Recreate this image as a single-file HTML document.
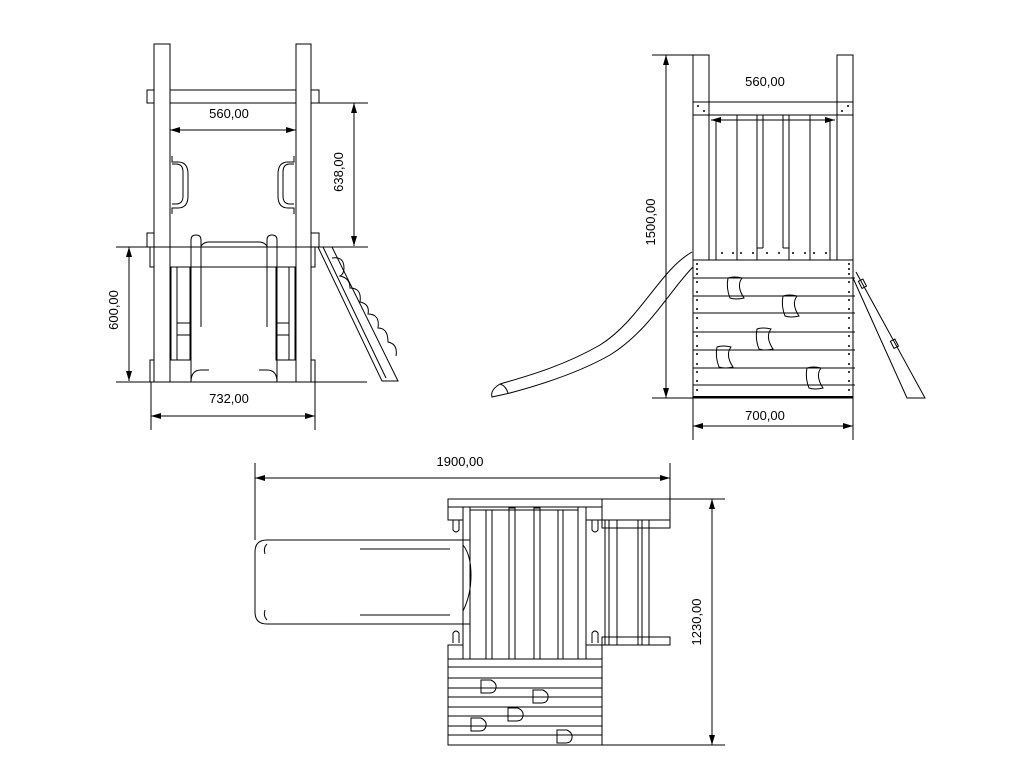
<!DOCTYPE html>
<html><head><meta charset="utf-8"><style>
html,body{margin:0;padding:0;background:#fff;}
svg{display:block;}
text{font-family:"Liberation Sans",sans-serif;font-size:13px;fill:#000;}
</style></head><body>
<svg width="1024" height="768" viewBox="0 0 1024 768" xmlns="http://www.w3.org/2000/svg">
<defs>
<marker id="a" viewBox="0 0 10 6" refX="10" refY="3" markerWidth="10" markerHeight="6" orient="auto-start-reverse" markerUnits="userSpaceOnUse"><path d="M0,0 L10,3 L0,6 z" fill="#000"/></marker>
</defs>
<g fill="none" stroke="#000" stroke-width="1">
<!-- ===== VIEW 1 FRONT ===== -->
<rect x="154" y="44" width="16" height="338"/>
<rect x="296" y="44" width="15" height="338"/>
<rect x="170" y="90" width="126" height="13"/>
<rect x="147" y="90" width="7" height="13"/>
<rect x="311" y="90" width="8" height="13"/>
<rect x="147" y="233" width="7" height="14"/>
<rect x="311" y="233" width="8" height="14"/>
<rect x="150" y="247" width="4" height="20"/>
<rect x="311" y="247" width="4" height="20"/>
<rect x="150" y="360" width="4" height="22"/>
<rect x="311" y="360" width="4" height="22"/>
<line x1="116" y1="247" x2="368" y2="247"/>
<line x1="170" y1="267" x2="296" y2="267"/>
<path d="M172,156 v6 h6 q10,0 10,12 v22 q0,12 -10,12 h-6 v6"/>
<path d="M172,164 h4 q7,0 7,8 v24 q0,8 -7,8 h-4"/>
<path d="M294,156 v6 h-6 q-10,0 -10,12 v22 q0,12 10,12 h6 v6"/>
<path d="M294,164 h-4 q-7,0 -7,8 v24 q0,8 7,8 h4"/>
<rect x="171" y="267" width="19" height="93"/>
<line x1="177" y1="267" x2="177" y2="360"/>
<line x1="177" y1="323" x2="190" y2="323"/><line x1="177" y1="335" x2="190" y2="335"/>
<rect x="276" y="267" width="19" height="93"/>
<line x1="289" y1="267" x2="289" y2="360"/>
<line x1="276" y1="323" x2="289" y2="323"/><line x1="276" y1="335" x2="289" y2="335"/>
<path d="M191,382 V240 q0,-5 5,-5 q5,0 5,5 V327"/>
<path d="M267,327 V240 q0,-5 5,-5 q5,0 5,5 V382"/>
<path d="M201,246 q3,-4 8,-4 h50 q5,0 8,4"/>
<path d="M191,382 q0,-12 10,-12 h8 M259,370 h8 q10,0 10,12"/>
<line x1="116" y1="382" x2="367" y2="382"/>
<path d="M318,247 L382,381 L398,381 L332,247 z"/>
<path d="M323,247 L386,378"/>
<path d="M332,258 q12,-2 12,10 q0,6 -4,8 q10,2 10,12 q12,0 10,14 q10,2 8,12 q12,0 10,14 q10,0 10,14 q10,2 8,14"/>
<line x1="311" y1="103" x2="368" y2="103"/>
<line x1="354" y1="103" x2="354" y2="246" marker-start="url(#a)" marker-end="url(#a)"/>
<line x1="170" y1="130" x2="296" y2="130" marker-start="url(#a)" marker-end="url(#a)"/>
<line x1="129" y1="247" x2="129" y2="381" marker-start="url(#a)" marker-end="url(#a)"/>
<line x1="151" y1="382" x2="151" y2="430"/>
<line x1="315" y1="382" x2="315" y2="430"/>
<line x1="151" y1="416" x2="315" y2="416" marker-start="url(#a)" marker-end="url(#a)"/>

<!-- ===== VIEW 2 SIDE ===== -->
<rect x="693" y="55" width="16" height="205"/>
<rect x="837" y="55" width="16" height="205"/>
<rect x="693" y="102" width="160" height="13"/>
<line x1="709" y1="115" x2="709" y2="260"/><line x1="716" y1="120" x2="716" y2="260"/>
<line x1="737" y1="115" x2="737" y2="260"/><line x1="757" y1="115" x2="757" y2="260"/>
<line x1="763" y1="115" x2="763" y2="248"/><line x1="783" y1="115" x2="783" y2="248"/>
<line x1="789" y1="115" x2="789" y2="260"/><line x1="810" y1="115" x2="810" y2="260"/>
<line x1="830" y1="120" x2="830" y2="260"/><line x1="837" y1="115" x2="837" y2="260"/>
<line x1="757" y1="248" x2="763" y2="248"/><line x1="783" y1="248" x2="789" y2="248"/>
<line x1="711" y1="120" x2="835" y2="120" marker-start="url(#a)" marker-end="url(#a)"/>
<rect x="693" y="260" width="160" height="138"/>
<line x1="693" y1="278" x2="855" y2="278"/><line x1="693" y1="296" x2="855" y2="296"/>
<line x1="693" y1="313" x2="855" y2="313"/><line x1="693" y1="332" x2="855" y2="332"/>
<line x1="693" y1="350" x2="855" y2="350"/><line x1="693" y1="368" x2="855" y2="368"/>
<line x1="693" y1="385" x2="855" y2="385"/>
<line x1="693" y1="397" x2="853" y2="397" stroke-width="2"/>
<path d="M728,278 q6,-2 14,0 q-6,8 2,20 q-8,2 -14,0 q-4,-10 -2,-20z"/>
<path d="M783,296 q6,-2 14,0 q-6,8 2,20 q-8,2 -14,0 q-4,-10 -2,-20z"/>
<path d="M757,329 q6,-2 14,0 q-6,8 2,20 q-8,2 -14,0 q-4,-10 -2,-20z"/>
<path d="M717,347 q6,-2 14,0 q-6,8 2,20 q-8,2 -14,0 q-4,-10 -2,-20z"/>
<path d="M807,368 q6,-2 14,0 q-6,8 2,20 q-8,2 -14,0 q-4,-10 -2,-20z"/>
<path d="M692,252 C660,270 640,320 600,345 C560,368 520,378 500,384 Q490,390 492,397 L510,393 C540,385 580,372 610,355 C650,330 670,290 693,267"/>
<path d="M500,384 q6,2 8,9"/>
<path d="M853,278 L907,398 L925,398 L856,272"/>
<rect x="860" y="280" width="5" height="8" transform="rotate(-27 862 284)"/>
<rect x="892" y="340" width="5" height="8" transform="rotate(-27 894 344)"/>
<line x1="652" y1="55" x2="693" y2="55"/>
<line x1="652" y1="398" x2="693" y2="398"/>
<line x1="666" y1="55" x2="666" y2="398" marker-start="url(#a)" marker-end="url(#a)"/>
<line x1="693" y1="398" x2="693" y2="440"/><line x1="853" y1="398" x2="853" y2="440"/>
<line x1="693" y1="426" x2="853" y2="426" marker-start="url(#a)" marker-end="url(#a)"/>

<!-- ===== VIEW 3 TOP ===== -->
<rect x="448" y="499" width="154" height="8"/>
<rect x="602" y="499" width="68" height="21"/>
<rect x="448" y="507" width="15" height="13"/>
<rect x="586" y="507" width="16" height="13"/>
<rect x="448" y="645" width="15" height="14"/>
<rect x="586" y="645" width="16" height="14"/>
<line x1="463" y1="507" x2="463" y2="659"/><line x1="470" y1="507" x2="470" y2="659"/>
<line x1="578" y1="507" x2="578" y2="659"/><line x1="586" y1="507" x2="586" y2="659"/>
<rect x="486" y="510" width="6" height="149"/><rect x="509" y="508" width="6" height="151"/>
<rect x="534" y="508" width="6" height="151"/><rect x="558" y="510" width="5" height="149"/>
<line x1="448" y1="659" x2="602" y2="659"/>
<line x1="470" y1="510" x2="578" y2="510"/>
<path d="M453,520 v10 q3,4 6,0 v-10"/><path d="M453,643 v-10 q3,-4 6,0 v10"/>
<path d="M592,520 v10 q3,4 6,0 v-10"/><path d="M592,643 v-10 q3,-4 6,0 v10"/>
<rect x="602" y="520" width="68" height="8"/>
<rect x="602" y="637" width="68" height="8"/>
<rect x="605" y="520" width="12" height="125"/><line x1="609" y1="520" x2="609" y2="645"/>
<rect x="638" y="520" width="11" height="125"/><line x1="642" y1="520" x2="642" y2="645"/>
<path d="M470,540 H267 q-12,0 -12,12 v60 q0,12 12,12 H470"/>
<path d="M463,545 q8,10 8,30 q0,20 -8,36"/>
<line x1="360" y1="549" x2="450" y2="549"/><line x1="360" y1="615" x2="450" y2="615"/>
<path d="M267,544 q-4,4 -2,10 M267,620 q-4,-4 -2,-10"/>
<rect x="448" y="659" width="154" height="86"/>
<line x1="448" y1="667" x2="602" y2="667"/><line x1="448" y1="678" x2="602" y2="678"/>
<line x1="448" y1="688" x2="602" y2="688"/><line x1="448" y1="697" x2="602" y2="697"/>
<line x1="448" y1="707" x2="602" y2="707"/><line x1="448" y1="716" x2="602" y2="716"/>
<line x1="448" y1="726" x2="602" y2="726"/><line x1="448" y1="735" x2="602" y2="735"/>
<path d="M481,680 h10 q6,3 5,8 q-1,5 -6,5 h-9 z"/>
<path d="M533,690 h10 q6,3 5,8 q-1,5 -6,5 h-9 z"/>
<path d="M508,708 h10 q6,3 5,8 q-1,5 -6,5 h-9 z"/>
<path d="M471,718 h10 q6,3 5,8 q-1,5 -6,5 h-9 z"/>
<path d="M557,730 h10 q6,3 5,8 q-1,5 -6,5 h-9 z"/>
<line x1="255" y1="463" x2="255" y2="540"/>
<line x1="670" y1="463" x2="670" y2="528"/>
<line x1="255" y1="478" x2="670" y2="478" marker-start="url(#a)" marker-end="url(#a)"/>
<line x1="602" y1="499" x2="725" y2="499"/>
<line x1="602" y1="745" x2="725" y2="745"/>
<line x1="712" y1="499" x2="712" y2="745" marker-start="url(#a)" marker-end="url(#a)"/>
</g>
<g fill="#000">
<circle cx="698" cy="106" r="1"/><circle cx="848" cy="106" r="1"/><circle cx="704" cy="111" r="1"/><circle cx="842" cy="111" r="1"/>
<circle cx="722" cy="253" r="1"/><circle cx="733" cy="253" r="1"/><circle cx="741" cy="253" r="1"/><circle cx="753" cy="253" r="1"/><circle cx="767" cy="253" r="1"/><circle cx="779" cy="253" r="1"/><circle cx="793" cy="253" r="1"/><circle cx="805" cy="253" r="1"/><circle cx="814" cy="253" r="1"/><circle cx="826" cy="253" r="1"/>
<circle cx="697" cy="264" r="1"/><circle cx="697" cy="269" r="1"/><circle cx="697" cy="274" r="1"/><circle cx="849" cy="264" r="1"/><circle cx="849" cy="269" r="1"/><circle cx="849" cy="274" r="1"/>
<circle cx="697" cy="282" r="1"/><circle cx="697" cy="292" r="1"/><circle cx="697" cy="300" r="1"/><circle cx="697" cy="309" r="1"/><circle cx="697" cy="318" r="1"/><circle cx="697" cy="328" r="1"/><circle cx="697" cy="336" r="1"/><circle cx="697" cy="346" r="1"/><circle cx="697" cy="354" r="1"/><circle cx="697" cy="364" r="1"/><circle cx="697" cy="372" r="1"/><circle cx="697" cy="381" r="1"/><circle cx="697" cy="390" r="1"/>
<circle cx="849" cy="282" r="1"/><circle cx="849" cy="292" r="1"/><circle cx="849" cy="300" r="1"/><circle cx="849" cy="309" r="1"/><circle cx="849" cy="318" r="1"/><circle cx="849" cy="328" r="1"/><circle cx="849" cy="336" r="1"/><circle cx="849" cy="346" r="1"/><circle cx="849" cy="354" r="1"/><circle cx="849" cy="364" r="1"/><circle cx="849" cy="372" r="1"/><circle cx="849" cy="381" r="1"/><circle cx="849" cy="390" r="1"/>
</g>
<text x="229" y="118" text-anchor="middle">560,00</text>
<text x="229" y="403" text-anchor="middle">732,00</text>
<text transform="translate(343,172) rotate(-90)" text-anchor="middle">638,00</text>
<text transform="translate(118,310) rotate(-90)" text-anchor="middle">600,00</text>
<text x="765" y="86" text-anchor="middle">560,00</text>
<text x="765" y="420" text-anchor="middle">700,00</text>
<text transform="translate(655,222) rotate(-90)" text-anchor="middle">1500,00</text>
<text x="460" y="466" text-anchor="middle">1900,00</text>
<text transform="translate(701,622) rotate(-90)" text-anchor="middle">1230,00</text>
</svg>
</body></html>
